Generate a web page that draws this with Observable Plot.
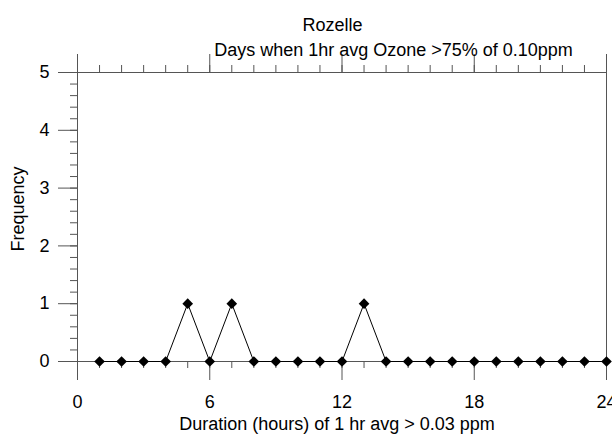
<!DOCTYPE html>
<html>
<head>
<meta charset="utf-8">
<script src="https://cdn.jsdelivr.net/npm/d3@7"></script>
<script src="https://cdn.jsdelivr.net/npm/@observablehq/plot@0.6"></script>
<style>
  html, body { margin: 0; padding: 0; background: #fff; }
  svg { display: block; }
</style>
</head>
<body>
<div id="chart"></div>
<script>
const title = "Rozelle";
const subtitle = "Days when 1hr avg Ozone >75% of 0.10ppm";
const xLabel = "Duration (hours) of 1 hr avg > 0.03 ppm";
const yLabel = "Frequency";

const durations = [1,2,3,4,5,6,7,8,9,10,11,12,13,14,15,16,17,18,19,20,21,22,23,24];
const frequency = [0,0,0,0,1,0,1,0,0,0,0,0,1,0,0,0,0,0,0,0,0,0,0,0];

const xMajorTicks = [0, 6, 12, 18, 24];
const xMinorTicks = d3.range(0, 25, 1);
const yMajorTicks = [0, 1, 2, 3, 4, 5];
const yMinorTicks = d3.range(0, 26).map(i => i / 5);

const data = durations.map((d, i) => ({duration: d, freq: frequency[i]}));

const axisColor = "#555";
const font = "Liberation Sans, Arial, sans-serif";
const fs = 18;

const chart = Plot.plot({
  width: 612,
  height: 439,
  marginLeft: 77,
  marginRight: 6,
  marginTop: 72,
  marginBottom: 78,
  style: {fontFamily: font, fontSize: fs + "px", color: "#000", background: "#fff"},
  x: {domain: [0, 24]},
  y: {domain: [0, 5]},
  marks: [
    Plot.frame({stroke: axisColor}),
    // top ticks
    Plot.axisX({anchor: "top", ticks: xMinorTicks, tickSize: 8, tickFormat: () => "", label: null, stroke: axisColor}),
    Plot.axisX({anchor: "top", ticks: xMajorTicks, tickSize: 19, tickFormat: () => "", label: null, stroke: axisColor}),
    // bottom ticks
    Plot.axisX({anchor: "bottom", ticks: xMinorTicks, tickSize: 7, tickFormat: () => "", label: null, stroke: axisColor}),
    Plot.axisX({anchor: "bottom", ticks: xMajorTicks, tickSize: 19, tickPadding: 15, tickFormat: d3.format("d"), label: null, stroke: axisColor, fontSize: fs, fill: "#000"}),
    // left ticks
    Plot.axisY({anchor: "left", ticks: yMinorTicks, tickSize: 7, tickFormat: () => "", label: null, stroke: axisColor}),
    Plot.axisY({anchor: "left", ticks: yMajorTicks, tickSize: 19, tickPadding: 9, tickFormat: d3.format("d"), label: null, stroke: axisColor, fontSize: fs, fill: "#000"}),
    // data
    Plot.line(data, {x: "duration", y: "freq", stroke: "#000", strokeWidth: 1}),
    Plot.dot(data, {x: "duration", y: "freq", symbol: "diamond2", r: 4.8, fill: "#000", stroke: "none"}),
    // titles and labels
    Plot.text([title], {frameAnchor: "top", dx: -9.5, dy: -54, fontSize: fs, fill: "#000"}),
    Plot.text([subtitle], {frameAnchor: "top", dx: 51.5, dy: -29.5, fontSize: fs, fill: "#000"}),
    Plot.text([xLabel], {frameAnchor: "bottom", dx: -5, dy: 68, fontSize: fs, fill: "#000"}),
    Plot.text([yLabel], {frameAnchor: "left", textAnchor: "middle", dx: -59.5, dy: -8, rotate: -90, fontSize: fs, fill: "#000"})
  ]
});

document.getElementById("chart").appendChild(chart);
</script>
</body>
</html>
